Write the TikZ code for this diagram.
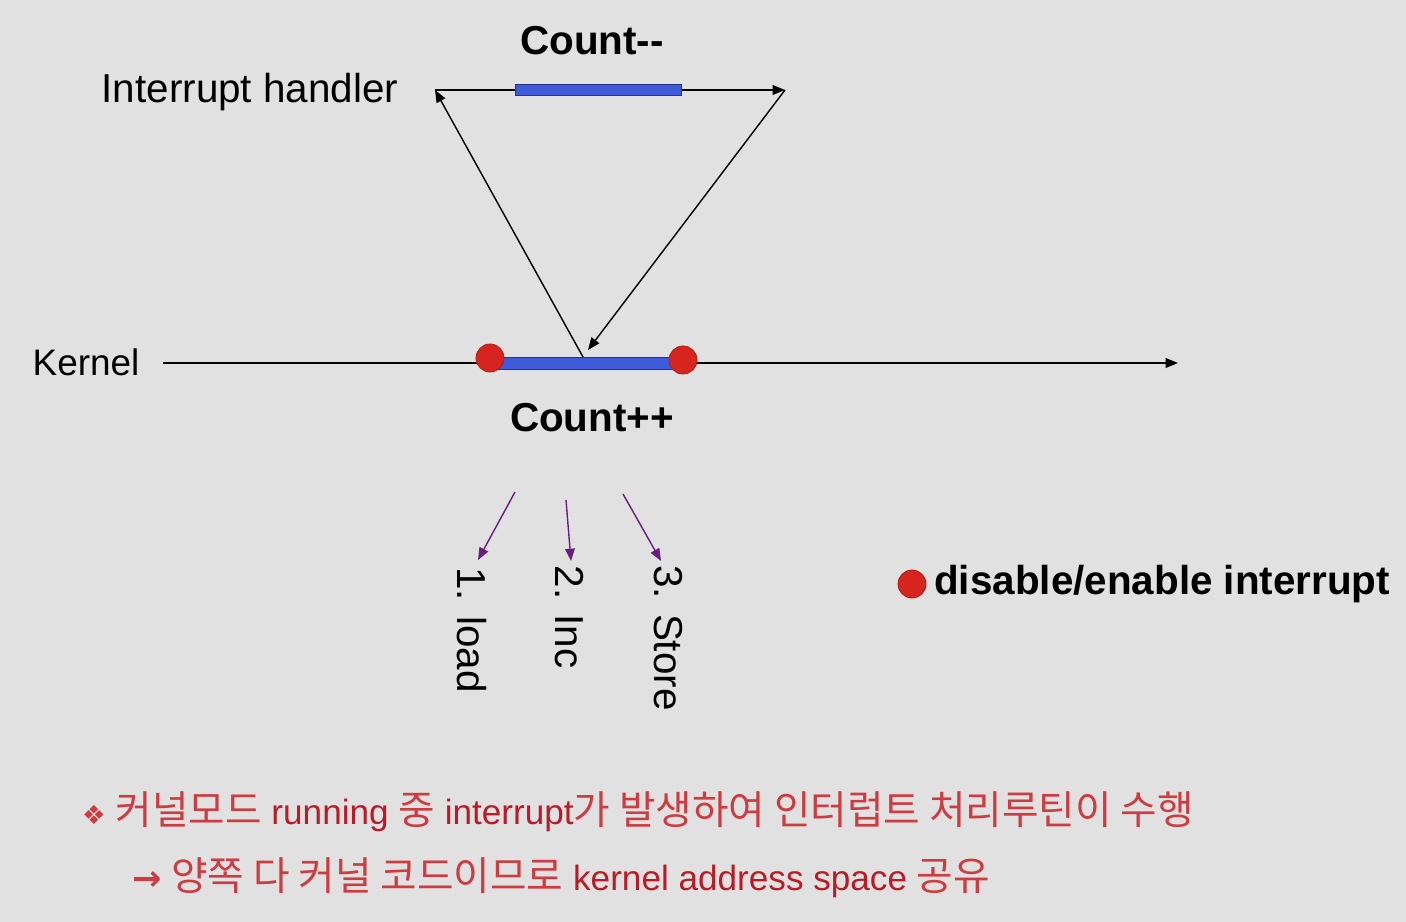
\documentclass[tikz,border=0pt]{standalone}
\usepackage{fontspec}
\setmainfont{Liberation Sans}
\newfontfamily\krfont{Noto Sans CJK KR}
\newfontfamily\symfont{DejaVu Sans}
\usetikzlibrary{arrows.meta}
\definecolor{bg}{RGB}{225,225,225}
\definecolor{barblue}{RGB}{62,92,218}
\definecolor{bardark}{RGB}{40,50,140}
\definecolor{dotred}{RGB}{214,36,30}
\definecolor{notered}{RGB}{205,60,65}
\definecolor{latinred}{RGB}{185,28,40}
\definecolor{tipviolet}{RGB}{105,30,125}
\newcommand{\kr}[1]{{\krfont\fontsize{22.6}{26}\selectfont #1}}
\newcommand{\en}[1]{{\color{latinred}#1}}
\begin{document}
\begin{tikzpicture}[x=0.02cm,y=-0.02cm,
    line/.style={line width=0.8pt},
    tip/.style={-{Triangle[length=7pt,width=5.5pt]}},
    bar/.style={draw=bardark,fill=barblue,line width=0.5pt},
    dot/.style={circle,fill=dotred,draw=dotred!80!black,minimum size=16pt,inner sep=0pt},
    lbl/.style={font=\fontsize{23}{27}\selectfont},
    note/.style={anchor=west,text=notered,font=\fontsize{20}{24}\selectfont}]
    %% Background
    \fill[bg] (0,0) rectangle (1406,922);
    \useasboundingbox (0,0) rectangle (1406,922);
    %% Interrupt handler
    \node[lbl] (ih) at (250,92) {Interrupt handler};
    \coordinate (ihL) at (435,90);
    \coordinate (ihR) at (785,90);
    \draw[line,tip] (ihL) -- (ihR);
    \draw[bar] (515,84) rectangle (681,95);
    \node[lbl,font=\fontsize{23}{27}\selectfont\bfseries] (dec) at (592,41) {Count{-}{-}};
    %% Kernel
    \node[lbl,font=\fontsize{21}{25}\selectfont] (kn) at (86,362) {Kernel};
    \coordinate (knL) at (163,363);
    \coordinate (knR) at (1178,363);
    \draw[line,tip] (knL) -- (knR);
    \draw[bar] (490,357) rectangle (683,369);
    \node[dot] (off) at (490,358) {};
    \node[dot] (on) at (683,360) {};
    \node[lbl,font=\fontsize{23}{27}\selectfont\bfseries] (inc) at (592,418) {Count++};
    %% Jumps
    \coordinate (kOut) at (583,357);
    \coordinate (kIn) at (588,350);
    \draw[line,tip] (kOut) -- (ihL);
    \draw[line,tip] (ihR) -- (kIn);
    %% Steps
    \node[lbl,rotate=-90] (s1) at (472,630) {1. load};
    \node[lbl,rotate=-90] (s2) at (569,617) {2. Inc};
    \node[lbl,rotate=-90] (s3) at (668,638) {3. Store};
    \coordinate (a1) at (515,492);
    \coordinate (a2) at (566,500);
    \coordinate (a3) at (623,494);
    \draw[line,tip,tipviolet] (a1) -- (478,560);
    \draw[line,tip,tipviolet] (a2) -- (571,561);
    \draw[line,tip,tipviolet] (a3) -- (661,561);
    %% Legend
    \node[dot] (key) at (912,584) {};
    \node[lbl,font=\fontsize{23}{27}\selectfont\bfseries,anchor=west] (keytxt) at (928,584) {disable/enable interrupt};
    %% Notes
    \node[note] (n1) at (76,812) {{\symfont\fontsize{15}{18}\selectfont ❖} \kr{커널모드} \en{running} \kr{중} \en{interrupt}\kr{가 발생하여 인터럽트 처리루틴이 수행}};
    \node[note] (n2) at (126,878) {{\symfont\bfseries →} \kr{양쪽 다 커널 코드이므로} \en{kernel address space} \kr{공유}};
\end{tikzpicture}
\end{document}
